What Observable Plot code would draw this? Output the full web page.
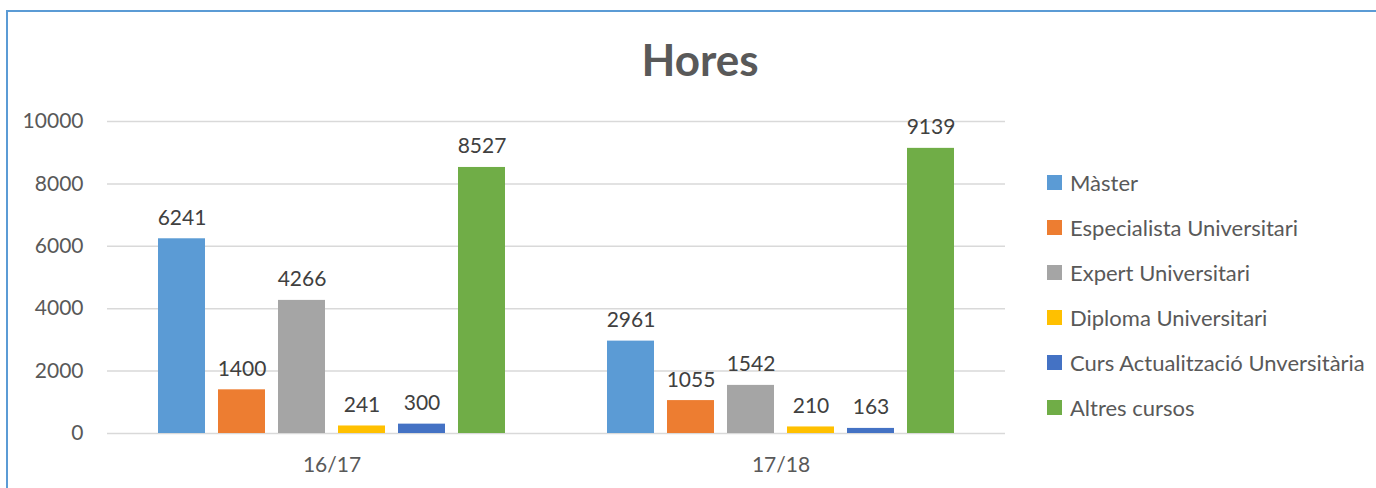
<!DOCTYPE html>
<html>
<head>
<meta charset="utf-8">
<script src="https://cdn.jsdelivr.net/npm/d3@7"></script>
<script src="https://cdn.jsdelivr.net/npm/@observablehq/plot@0.6"></script>
<style>
  html, body { margin: 0; padding: 0; background: #fff; }
  #wrap { position: relative; width: 1376px; height: 488px; overflow: hidden; font-family: Lato, "Open Sans", sans-serif; color: #595959; }
  #frame { position: absolute; left: 6px; top: 10px; width: 1420px; height: 520px; border: 2px solid #5b9bd5; box-sizing: border-box; }
  #title { position: absolute; left: 0; width: 1400px; top: 33px; text-align: center; font-size: 44px; font-weight: bold; color: #595959; line-height: 52px; }
  #chart { position: absolute; left: 0; top: 0; }
  #legend { position: absolute; left: 1047px; top: 160px; }
  .item { display: flex; align-items: center; height: 45px; font-size: 22px; color: #595959; }
  .sw { width: 15px; height: 15px; margin-right: 8px; flex: none; }
</style>
</head>
<body>
<div id="wrap">
  <div id="frame"></div>
  <div id="title">Hores</div>
  <div id="chart"></div>
  <div id="legend"></div>
</div>
<script>
const years = ["16/17", "17/18"];
const categories = ["Màster", "Especialista Universitari", "Expert Universitari", "Diploma Universitari", "Curs Actualització Unversitària", "Altres cursos"];
const colors = ["#5b9bd5", "#ed7d31", "#a5a5a5", "#ffc000", "#4472c4", "#70ad47"];
const values1617 = [6241, 1400, 4266, 241, 300, 8527];
const values1718 = [2961, 1055, 1542, 210, 163, 9139];
const yTicks = [0, 2000, 4000, 6000, 8000, 10000];

const seriesByYear = [values1617, values1718];
const data = [];
years.forEach((yr, i) => categories.forEach((c, j) => data.push({year: yr, cat: c, value: seriesByYear[i][j]})));

const chart = Plot.plot({
  width: 1020,
  height: 488,
  marginLeft: 107,
  marginRight: 15,
  marginTop: 121,
  marginBottom: 55,
  style: {fontFamily: "Lato, 'Open Sans', sans-serif", fontSize: "21px", color: "#595959", background: "transparent"},
  fx: {domain: years, padding: 0, label: null, tickSize: 0, tickPadding: 24, axis: "bottom"},
  x: {domain: categories, paddingInner: 0.217, paddingOuter: 0.85, axis: null},
  y: {domain: [0, 10000], ticks: yTicks, tickSize: 0, tickPadding: 24, tickFormat: d => String(d), label: null},
  color: {domain: categories, range: colors},
  marks: [
    Plot.gridY(yTicks, {stroke: "#d9d9d9", strokeOpacity: 1, strokeWidth: 1.5}),
    Plot.barY(data, {fx: "year", x: "cat", y: "value", fill: "cat"}),
    Plot.text(data, {fx: "year", x: "cat", y: "value", text: d => String(d.value), dy: -14, lineAnchor: "bottom", fill: "#404040", fontSize: 21})
  ]
});
document.getElementById("chart").appendChild(chart);

const legend = document.getElementById("legend");
categories.forEach((c, i) => {
  const it = document.createElement("div");
  it.className = "item";
  const sw = document.createElement("span");
  sw.className = "sw";
  sw.style.background = colors[i];
  const t = document.createElement("span");
  t.textContent = c;
  it.appendChild(sw); it.appendChild(t);
  legend.appendChild(it);
});
</script>
</body>
</html>
